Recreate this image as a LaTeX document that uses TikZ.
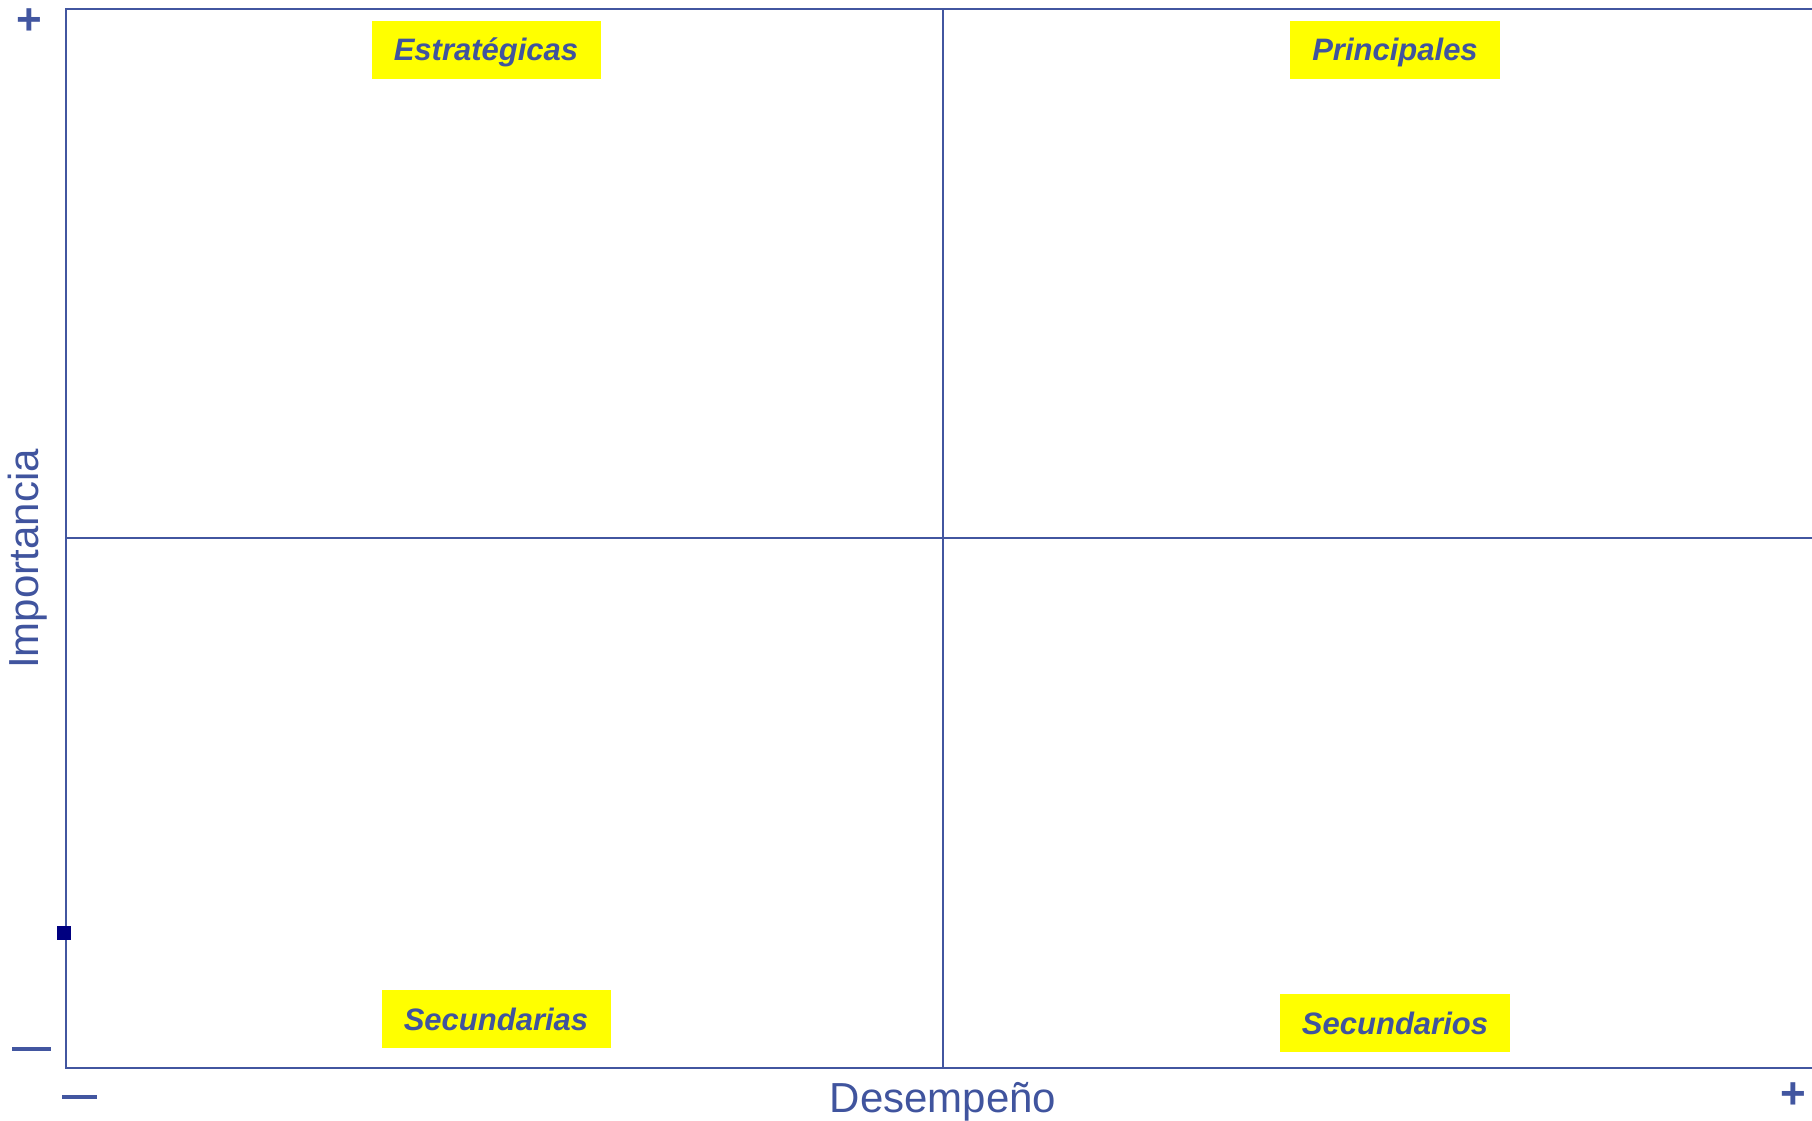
\documentclass[tikz,border=0pt]{standalone}
\usepackage{fontspec}
\setmainfont{Liberation Sans}
\definecolor{axblue}{RGB}{66,86,160}
\definecolor{txtblue}{RGB}{64,84,158}
\definecolor{navy}{RGB}{0,0,128}
\definecolor{lblyellow}{RGB}{255,255,0}
\begin{document}
\begin{tikzpicture}[x=1pt,y=-1pt,
  quad/.style={fill=lblyellow,text=txtblue,font=\fontsize{31}{35}\selectfont\bfseries\itshape,inner sep=0pt,text height=22pt,text depth=-3pt,minimum height=58pt,anchor=center},
  axlbl/.style={text=txtblue,font=\fontsize{42}{46}\selectfont,inner sep=0pt},
  sign/.style={text=axblue,font=\fontsize{44}{46}\selectfont\bfseries,inner sep=0pt},
  gridline/.style={draw=axblue,line width=2pt}]
\useasboundingbox (0,0) rectangle (1812,1121);
% frame
\draw[gridline] (1830,9) -- (66,9) -- (66,1068) -- (1830,1068);
\draw[gridline] (943,9) -- (943,1068);
\draw[gridline] (66,538) -- (1830,538);
% quadrant labels
\node[quad,minimum width=229pt] (estr) at (486,50) {Estratégicas};
\node[quad,minimum width=210pt] (princ) at (1395,50) {Principales};
\node[quad,minimum width=229pt] (secf) at (496,1019) {Secundarias};
\node[quad,minimum width=230pt] (secm) at (1395,1023) {Secundarios};
% axis labels
\node[axlbl,rotate=90] (imp) at (28,559) {Importancia};
\node[axlbl] (des) at (943,1102) {Desempeño};
% signs
\node[sign] (yplus) at (29,22) {+};
\node[sign,anchor=east] (xplus) at (1806,1096) {+};
\draw[axblue,line width=4pt] (12,1049) -- (51,1049);
\draw[axblue,line width=4pt] (62,1097) -- (97,1097);
% marker
\node[fill=navy,minimum size=14pt,inner sep=0pt] (mk) at (64,933) {};
\end{tikzpicture}
\end{document}
